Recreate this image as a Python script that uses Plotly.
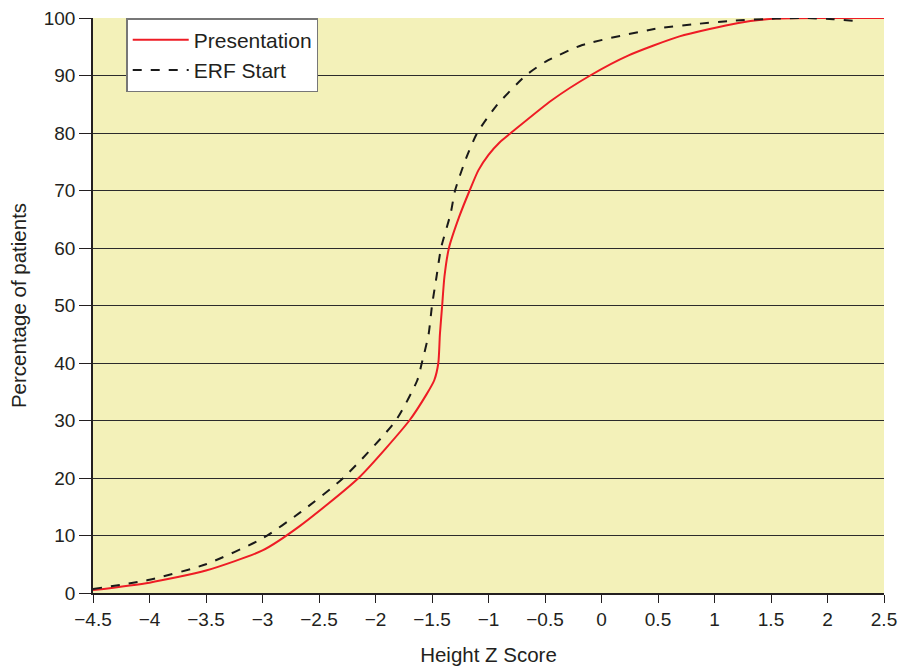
import plotly.graph_objects as go

pres_x = [-4.5, -4.0, -3.5, -3.0, -2.68, -2.15, -1.7, -1.55, -1.48, -1.444, -1.43, -1.41, -1.39, -1.35, -1.26, -1.167, -1.09, -1.0, -0.9, -0.79, -0.44, -0.10, 0.24, 0.69, 1.2, 1.55, 2.0, 2.5]
pres_y = [0.5, 1.8, 3.9, 7.4, 11.5, 20.0, 30.0, 34.5, 37.0, 40.0, 45.0, 50.0, 55.0, 60.0, 65.4, 70.0, 73.5, 76.2, 78.4, 80.2, 85.7, 90.0, 93.5, 96.8, 99.1, 99.9, 100.0, 100.0]

erf_x = [-4.5, -4.0, -3.5, -3.0, -2.66, -2.285, -1.82, -1.63, -1.59, -1.53, -1.5, -1.46, -1.42, -1.335, -1.296, -1.2, -1.1, -0.936, -0.671, -0.494, -0.17, 0.5, 0.86, 1.15, 1.54, 1.8, 2.05, 2.3]
erf_y = [0.7, 2.3, 5.0, 9.5, 14.1, 20.0, 30.0, 37.0, 40.0, 45.0, 50.0, 55.0, 60.0, 66.0, 70.0, 75.5, 80.0, 84.6, 90.0, 92.4, 95.3, 98.2, 99.0, 99.5, 99.9, 100.0, 99.8, 99.4]

x_ticks = [-4.5, -4, -3.5, -3, -2.5, -2, -1.5, -1, -0.5, 0, 0.5, 1, 1.5, 2, 2.5]
x_labels = ["\u22124.5", "\u22124", "\u22123.5", "\u22123", "\u22122.5", "\u22122", "\u22121.5", "\u22121", "\u22120.5", "0", "0.5", "1", "1.5", "2", "2.5"]
y_ticks = [0, 10, 20, 30, 40, 50, 60, 70, 80, 90, 100]

fig = go.Figure()
fig.add_trace(go.Scatter(x=pres_x, y=pres_y, mode="lines", name="Presentation",
                         line=dict(color="#ee1c25", width=2, shape="spline", smoothing=0.6)))
fig.add_trace(go.Scatter(x=erf_x, y=erf_y, mode="lines", name="ERF Start",
                         line=dict(color="#1a1a1a", width=2, dash="dash", shape="spline", smoothing=0.6)))

font = "Liberation Sans, Arial, sans-serif"
fig.update_layout(
    width=905, height=669,
    margin=dict(l=93, r=21, t=18, b=76, autoexpand=False),
    paper_bgcolor="white",
    plot_bgcolor="#f3f1b9",
    font=dict(family=font, color="#231f20", size=19),
    showlegend=True,
    legend=dict(x=0.042, y=1.0, xanchor="left", yanchor="top",
                bgcolor="white", bordercolor="#777777", borderwidth=1.5,
                font=dict(size=21, family=font, color="#231f20"),
                tracegroupgap=0, itemwidth=56),
    xaxis=dict(range=[-4.5, 2.5], tickvals=x_ticks, ticktext=x_labels,
               showgrid=False, zeroline=False, showline=True, linecolor="#231f20", linewidth=1.5,
               ticks="outside", ticklen=8, tickcolor="#231f20", tickwidth=1,
               tickfont=dict(size=19),
               title=dict(text="Height Z Score", font=dict(size=20.5), standoff=19)),
    yaxis=dict(range=[0, 100], tickvals=y_ticks,
               showgrid=True, gridcolor="#2b2b2b", gridwidth=1, zeroline=False,
               showline=True, linecolor="#231f20", linewidth=1.5,
               ticks="outside", ticklen=12, tickcolor="#231f20", tickwidth=1,
               tickfont=dict(size=19),
               title=dict(text="Percentage of patients", font=dict(size=20.5), standoff=12)),
)

fig.write_html("out.html")
